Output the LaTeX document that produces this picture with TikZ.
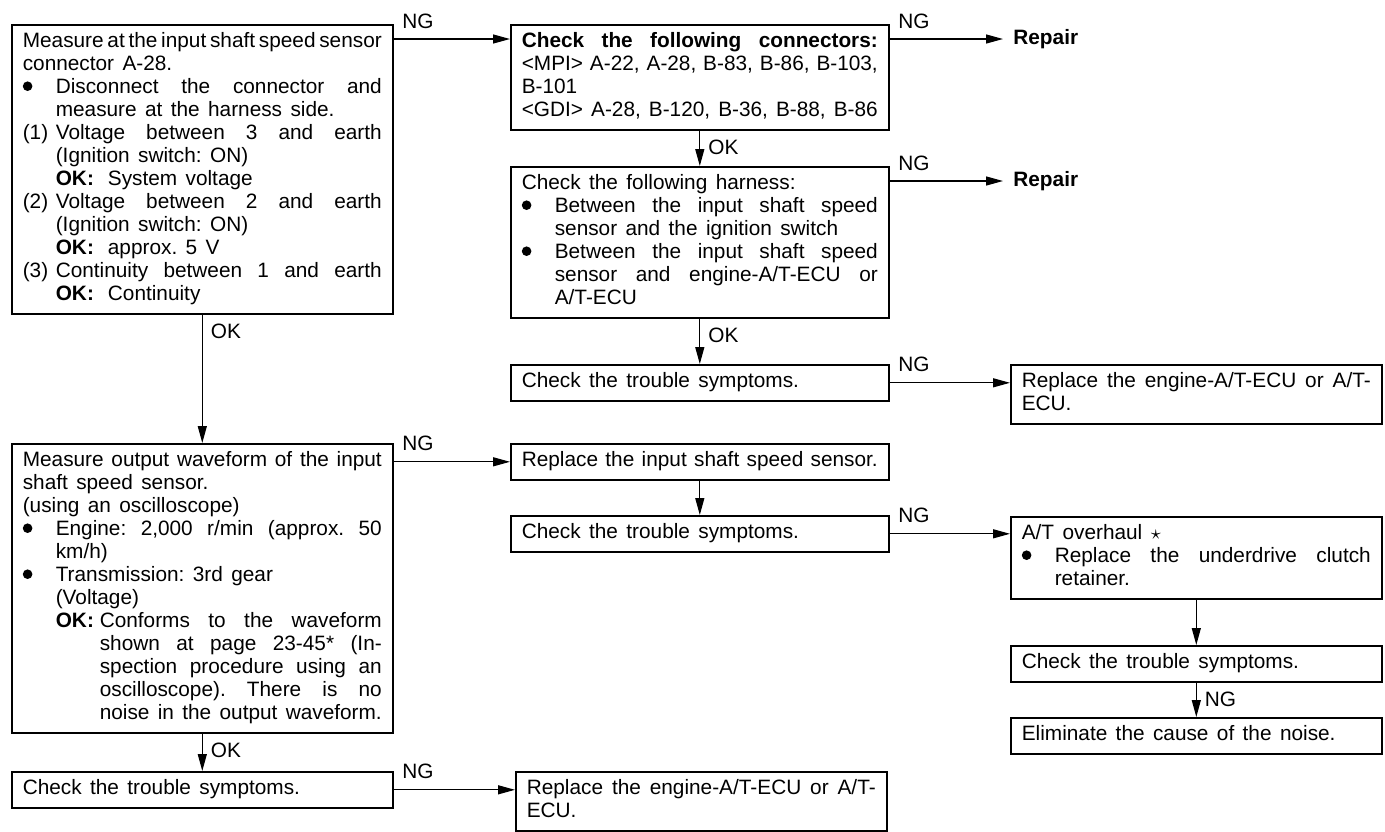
\documentclass[tikz,border=0pt]{standalone}
\usepackage{fontspec}
\setmainfont{Liberation Sans}
\usetikzlibrary{arrows.meta}
\newcommand\sss{\vrule height 8.05pt depth 3.45pt width 0pt\relax}
\newcommand\JL[2][0pt]{\hbox to\hsize{\sss\hskip#1\relax#2}}
\newcommand\LL[2][0pt]{\hbox to\hsize{\sss\hskip#1\relax#2\hfil}}
\newcommand\NL[2][0pt]{\hbox to\hsize{\spaceskip=2pt plus 3pt minus 0.5pt\relax\sss\hskip#1\relax#2}}
\newcommand\LN[2]{\vbox{\hsize=#1\relax\spaceskip=4.2pt plus 20pt minus 1.4pt\relax\frenchspacing#2}}
\newcommand\bul{\makebox[16.5pt][l]{\tikz[baseline=0pt]\fill (2.6pt,3.6pt) circle[radius=2.4pt];}}
\newcommand\itm[1]{\makebox[16.5pt][l]{#1}}
\newcommand\OKk{\textbf{OK:}\hskip 7pt\relax}
\tikzset{
  txt/.style={font=\fontsize{10.4}{11.5}\selectfont},
  box/.style={txt, draw, line width=0.8pt, anchor=north west, inner xsep=5.5pt, inner ysep=3.25pt},
  c1/.style={box},
  c2/.style={box},
  c3/.style={box},
  arr/.style={line width=0.65pt, -{Triangle[length=8.5pt,width=4.5pt]}},
  lab/.style={inner sep=0pt, font=\fontsize{10.4}{12}\selectfont},
  rep/.style={inner xsep=5pt, inner ysep=0pt, anchor=west, font=\fontsize{10.4}{12}\selectfont\bfseries},
}
\begin{document}
\begin{tikzpicture}[x=0.5pt,y=-0.5pt]
\fill[white] (0,0) rectangle (1385,831);
\useasboundingbox (0,0) rectangle (1385,831);

% column 1
\node[c1] (A) at (11,24) {\LN{179.5pt}{%
\NL{Measure at the input shaft speed sensor}
\LL{connector A-28.}
\JL{\bul Disconnect the connector and}
\LL[16.5pt]{measure at the harness side.}
\JL{\itm{(1)}Voltage between 3 and earth}
\LL[16.5pt]{(Ignition switch: ON)}
\LL[16.5pt]{\OKk System voltage}
\JL{\itm{(2)}Voltage between 2 and earth}
\LL[16.5pt]{(Ignition switch: ON)}
\LL[16.5pt]{\OKk approx. 5 V}
\JL{\itm{(3)}Continuity between 1 and earth}
\LL[16.5pt]{\OKk Continuity}}};

\node[c1] (B) at (11,443) {\LN{179.5pt}{%
\JL{Measure output waveform of the input}
\LL{shaft speed sensor.}
\LL{(using an oscilloscope)}
\JL{\bul Engine: 2,000 r/min (approx. 50}
\LL[16.5pt]{km/h)}
\LL{\bul Transmission: 3rd gear}
\LL[16.5pt]{(Voltage)}
\JL[16.5pt]{\makebox[22pt][l]{\textbf{OK:}}Conforms to the waveform}
\JL[38.5pt]{shown at page 23-45* (In-}
\JL[38.5pt]{spection procedure using an}
\JL[38.5pt]{oscilloscope). There is no}
\JL[38.5pt]{noise in the output waveform.}}};

\node[c1] (L) at (11,771) {\LN{179.5pt}{\LL{Check the trouble symptoms.}}};

% column 2
\node[c2] (C) at (510,24) {\LN{178pt}{%
\JL{\textbf{Check the following connectors:}}
\JL{<MPI> A-22, A-28, B-83, B-86, B-103,}
\LL{B-101}
\JL{<GDI> A-28, B-120, B-36, B-88, B-86}}};

\node[c2] (D) at (510,166) {\LN{178pt}{%
\LL{Check the following harness:}
\JL{\bul Between the input shaft speed}
\LL[16.5pt]{sensor and the ignition switch}
\JL{\bul Between the input shaft speed}
\JL[16.5pt]{sensor and engine-A/T-ECU or}
\LL[16.5pt]{A/T-ECU}}};

\node[c2] (E) at (510,364) {\LN{178pt}{\LL{Check the trouble symptoms.}}};
\node[c2] (G) at (510,443) {\LN{178pt}{\JL{Replace the input shaft speed sensor.}}};
\node[c2] (H) at (510,515) {\LN{178pt}{\LL{Check the trouble symptoms.}}};
\node[c3] (M) at (515,771) {\LN{174.5pt}{\JL{Replace the engine-A/T-ECU or A/T-}\LL{ECU.}}};

% column 3
\node[rep] (R1) at (1003,39) {Repair};
\node[rep] (R2) at (1003,181) {Repair};
\node[c3] (F) at (1010,364) {\LN{174.5pt}{\JL{Replace the engine-A/T-ECU or A/T-}\LL{ECU.}}};
\node[c3] (I) at (1010,516) {\LN{174.5pt}{%
\LL{A/T overhaul $\star$}
\JL{\bul Replace the underdrive clutch}
\LL[16.5pt]{retainer.}}};
\node[c3] (J) at (1010,645) {\LN{174.5pt}{\LL{Check the trouble symptoms.}}};
\node[c3] (K) at (1010,717) {\LN{174.5pt}{\LL{Eliminate the cause of the noise.}}};

% horizontal NG connectors
\draw[arr] ([yshift=-7.5pt]A.north east) -- ([yshift=-7.5pt]C.north west)
  node[lab,pos=0,anchor=south west,xshift=4pt,yshift=5pt] (ng1) {NG};
\draw[arr] ([yshift=-7.5pt]C.north east) -- (R1.west)
  node[lab,pos=0,anchor=south west,xshift=4pt,yshift=5pt] (ng2) {NG};
\draw[arr] (R2.west -| D.east) -- (R2.west)
  node[lab,pos=0,anchor=south west,xshift=4pt,yshift=5pt] (ng3) {NG};
\draw[arr] (E.east) -- (E.east -| F.west)
  node[lab,pos=0,anchor=south west,xshift=4pt,yshift=5pt] (ng4) {NG};
\draw[arr] (G.west -| B.east) -- (G.west)
  node[lab,pos=0,anchor=south west,xshift=4pt,yshift=5pt] (ng5) {NG};
\draw[arr] (H.east) -- (H.east -| I.west)
  node[lab,pos=0,anchor=south west,xshift=4pt,yshift=5pt] (ng6) {NG};
\draw[arr] (L.east) -- (L.east -| M.west)
  node[lab,pos=0,anchor=south west,xshift=4pt,yshift=5pt] (ng8) {NG};

% vertical connectors
\draw[arr] (A.south) -- (B.north)
  node[lab,pos=0,anchor=north west,xshift=4pt,yshift=-4.5pt] (ok1) {OK};
\draw[arr] (C.south) -- (D.north)
  node[lab,pos=0,anchor=north west,xshift=4pt,yshift=-4.5pt] (ok2) {OK};
\draw[arr] (D.south) -- (E.north)
  node[lab,pos=0,anchor=north west,xshift=4pt,yshift=-4.5pt] (ok3) {OK};
\draw[arr] (B.south) -- (L.north)
  node[lab,pos=0,anchor=north west,xshift=4pt,yshift=-4.5pt] (ok4) {OK};
\draw[arr] (G.south) -- (H.north);
\draw[arr] (I.south) -- (J.north);
\draw[arr] (J.south) -- (K.north)
  node[lab,pos=0,anchor=north west,xshift=4pt,yshift=-4.5pt] (ng7) {NG};
\end{tikzpicture}
\end{document}
